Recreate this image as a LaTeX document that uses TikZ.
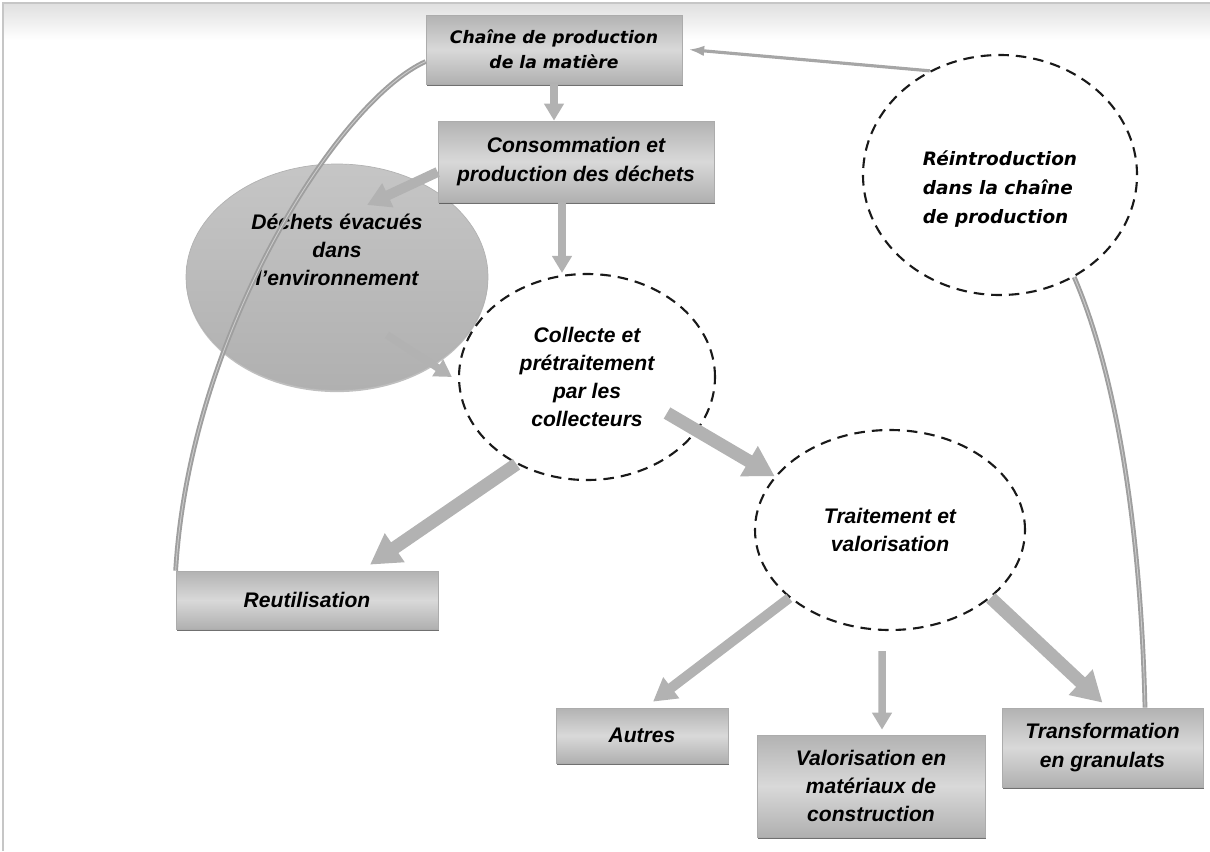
\documentclass[tikz,border=0pt]{standalone}
\usepackage{fontspec}
\setmainfont{Liberation Sans}
\newfontfamily\widefont{DejaVu Sans}
\usetikzlibrary{shapes.geometric,arrows.meta,shadows}

\newcommand{\boxfont}{\fontsize{12}{16}\selectfont\bfseries\itshape}
\newcommand{\chainefont}{\widefont\fontsize{9.8}{14}\selectfont\bfseries\itshape}
\newcommand{\reintrofont}{\widefont\fontsize{10.5}{16.5}\selectfont\bfseries\itshape}

\tikzset{
  boxnode/.style={rectangle, draw=gray!65, top color=gray!60, bottom color=gray!62, middle color=gray!30,
    drop shadow={shadow xshift=0.3pt, shadow yshift=-1.4pt, fill=black!70, opacity=0.8},
    inner sep=0pt, align=center, font=\boxfont},
  envnode/.style={ellipse, draw=gray!60, top color=gray!45, bottom color=gray!62,
    drop shadow={shadow xshift=0pt, shadow yshift=-1.2pt, fill=gray, opacity=0.5}, inner sep=0pt},
  dashnode/.style={ellipse, draw=black!90, line width=1.2pt, dash pattern=on 6pt off 4pt,
    inner sep=0pt, align=center, font=\boxfont},
  bigarrow/.style={draw=gray!60, line width=0.26cm, -{Triangle[length=0.6cm,width=0.66cm]}},
  midarrow/.style={draw=gray!60, line width=0.2cm, -{Triangle[length=0.46cm,width=0.5cm]}},
  smallarrow/.style={draw=gray!60, line width=0.15cm, -{Triangle[length=0.34cm,width=0.38cm]}},
  thinlink/.style={draw=gray!75, line width=1.1pt, double=gray!40, double distance=0.5pt}
}

\begin{document}
\begin{tikzpicture}
\newcommand{\pagew}{24.2}
\newcommand{\pageh}{17.02}

\useasboundingbox (0,0) rectangle (\pagew,-\pageh);
\shade[top color=gray!25, bottom color=white] (0.06,-0.06) rectangle (\pagew,-0.8);
\draw[gray!45, line width=0.8pt] (0.06,-\pageh) -- (0.06,-0.06) -- (\pagew,-0.06);

\node[envnode, minimum width=6.04cm, minimum height=4.52cm] (dech) at (6.74,-5.54) {};
\node[font=\boxfont, align=center] (dechtxt) at ([yshift=0.54cm]dech.center) {Déchets évacués\\dans\\l'environnement};

\node[boxnode, minimum width=5.12cm, minimum height=1.38cm, font=\chainefont] (chaine) at (11.08,-0.99) {Chaîne de production\\de la matière};
\node[boxnode, minimum width=5.52cm, minimum height=1.62cm] (conso) at (11.52,-3.23) {Consommation et\\production des déchets};
\node[dashnode, minimum width=5.12cm, minimum height=4.12cm] (coll) at (11.74,-7.54) {Collecte et\\prétraitement\\par les\\collecteurs};
\node[dashnode, minimum width=5.4cm, minimum height=4.0cm] (trait) at (17.8,-10.6) {Traitement et\\valorisation};
\node[dashnode, minimum width=5.48cm, minimum height=4.8cm] (reintro) at (20.0,-3.5) {};
\node[font=\reintrofont, align=left] (reintrotxt) at ([yshift=-0.28cm]reintro.center) {Réintroduction\\dans la chaîne\\de production};
\node[boxnode, minimum width=5.24cm, minimum height=1.16cm] (reut) at (6.14,-12.0) {Reutilisation};
\node[boxnode, minimum width=3.44cm, minimum height=1.1cm] (autres) at (12.84,-14.71) {Autres};
\node[boxnode, minimum width=4.56cm, minimum height=2.04cm] (valor) at (17.42,-15.72) {Valorisation en\\matériaux de\\construction};
\node[boxnode, minimum width=4.02cm, minimum height=1.58cm] (transf) at (22.05,-14.95) {Transformation\\en granulats};

\draw[smallarrow] (chaine.south) -- (chaine.south |- conso.north);
\draw[midarrow] ([yshift=-0.21cm]conso.west) -- ([xshift=0.6cm,yshift=1.44cm]dech.center);
\draw[smallarrow] ([xshift=-0.28cm]conso.south) -- ([xshift=-0.28cm]conso.south |- coll.north);
\draw[smallarrow] ([xshift=1cm,yshift=-1.16cm]dech.center) -- ([xshift=-0.12cm]coll.west);
\draw[bigarrow] ([xshift=1.6cm,yshift=-0.72cm]coll.center) -- (trait.155);
\draw[bigarrow] (coll.231) -- ([xshift=1.26cm,yshift=0.12cm]reut.north);
\draw[midarrow] (trait.214) -- ([xshift=0.22cm,yshift=0.12cm]autres.north);
\draw[smallarrow] ([xshift=-0.16cm,yshift=-0.4cm]trait.south) -- ([xshift=0.22cm,yshift=0.1cm]valor.north);
\draw[bigarrow] (trait.326) -- ([yshift=0.1cm]transf.north);

\draw[thinlink] ([yshift=-0.24cm]chaine.west) .. controls (6.8,-2.0) and (3.8,-6.6) .. (reut.north west);
\draw[thinlink] ([xshift=0.85cm]transf.north) .. controls (22.8,-10.0) and (22.2,-7.2) .. (reintro.306);
\draw[draw=gray!70, line width=1.8pt, -{Latex[length=9pt,width=6pt]}] (reintro.124) -- ([xshift=0.12cm]chaine.east);
\end{tikzpicture}
\end{document}
